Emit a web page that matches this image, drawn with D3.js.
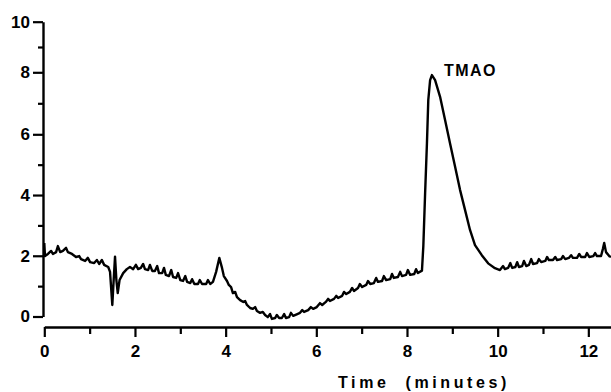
<!DOCTYPE html>
<html>
<head>
<meta charset="utf-8">
<script src="https://cdn.jsdelivr.net/npm/d3@7"></script>
<style>
  body { margin: 0; background: #fff; }
  svg { display: block; font-family: "Liberation Sans", Arial, sans-serif; font-weight: bold; }
</style>
</head>
<body>
<div id="chart"></div>
<script>
// chromatogram trace: [time (min), signal]
const trace = [
  [0, 2.42], [0.015, 1.99], [0.08, 2.06], [0.15, 2.16], [0.19, 2.06], [0.26, 2.12], [0.30, 2.32],
  [0.35, 2.12], [0.41, 2.16], [0.48, 2.26], [0.52, 2.12], [0.61, 2.06], [0.70, 1.96], [0.77, 1.99],
  [0.81, 1.89], [0.90, 1.83], [0.96, 1.93], [1.01, 1.79], [1.10, 1.76], [1.16, 1.86], [1.21, 1.73],
  [1.27, 1.86], [1.32, 1.70], [1.41, 1.63], [1.45, 1.47], [1.50, 0.38], [1.53, 1.20], [1.56, 1.97],
  [1.59, 1.20], [1.62, 0.77], [1.66, 1.20], [1.74, 1.43], [1.82, 1.56], [1.89, 1.63], [1.96, 1.56],
  [2.02, 1.70], [2.07, 1.56], [2.13, 1.60], [2.18, 1.73], [2.22, 1.56], [2.29, 1.53], [2.33, 1.70],
  [2.38, 1.50], [2.44, 1.50], [2.49, 1.66], [2.53, 1.43], [2.60, 1.43], [2.64, 1.60], [2.68, 1.37],
  [2.75, 1.33], [2.80, 1.53], [2.84, 1.30], [2.91, 1.27], [2.95, 1.43], [3.00, 1.20], [3.06, 1.17],
  [3.11, 1.33], [3.15, 1.14], [3.22, 1.10], [3.26, 1.23], [3.31, 1.07], [3.39, 1.07], [3.43, 1.20],
  [3.48, 1.07], [3.57, 1.07], [3.61, 1.20], [3.66, 1.07], [3.72, 1.14], [3.79, 1.47], [3.86, 1.93],
  [3.92, 1.60], [3.96, 1.33], [4.03, 1.17], [4.07, 1.04], [4.12, 0.97], [4.16, 0.77], [4.21, 0.81],
  [4.25, 0.64], [4.32, 0.54], [4.39, 0.48], [4.43, 0.51], [4.47, 0.38], [4.54, 0.28], [4.60, 0.25],
  [4.65, 0.31], [4.69, 0.18], [4.76, 0.12], [4.82, 0.15], [4.87, 0.05], [4.93, -0.02], [4.98, 0.08],
  [5.02, -0.08], [5.09, -0.05], [5.13, 0.05], [5.18, -0.05], [5.24, -0.05], [5.29, 0.08], [5.33, -0.05],
  [5.40, -0.02], [5.44, 0.12], [5.49, 0.02], [5.58, 0.08], [5.64, 0.12], [5.69, 0.21], [5.73, 0.15],
  [5.82, 0.21], [5.88, 0.31], [5.93, 0.25], [6.01, 0.31], [6.08, 0.44], [6.13, 0.38], [6.21, 0.48],
  [6.26, 0.58], [6.30, 0.51], [6.39, 0.58], [6.44, 0.68], [6.48, 0.61], [6.57, 0.68], [6.61, 0.81],
  [6.66, 0.74], [6.74, 0.81], [6.79, 0.94], [6.83, 0.84], [6.92, 0.94], [6.96, 1.07], [7.01, 0.97],
  [7.10, 1.04], [7.14, 1.17], [7.19, 1.07], [7.27, 1.10], [7.32, 1.27], [7.36, 1.14], [7.45, 1.17],
  [7.49, 1.33], [7.54, 1.20], [7.63, 1.23], [7.67, 1.40], [7.71, 1.27], [7.80, 1.30], [7.85, 1.47],
  [7.89, 1.33], [7.98, 1.37], [8.02, 1.53], [8.07, 1.37], [8.16, 1.40], [8.20, 1.56], [8.24, 1.43],
  [8.33, 1.51], [8.36, 2.30], [8.40, 4.07], [8.44, 5.70], [8.47, 7.11], [8.51, 7.75], [8.55, 7.91],
  [8.62, 7.75], [8.73, 7.21], [8.84, 6.46], [8.95, 5.70], [9.06, 4.94], [9.17, 4.17], [9.28, 3.51],
  [9.39, 2.85], [9.50, 2.35], [9.65, 2.02], [9.79, 1.75], [9.94, 1.59], [10.05, 1.53], [10.12, 1.66],
  [10.16, 1.56], [10.23, 1.60], [10.28, 1.76], [10.32, 1.60], [10.39, 1.63], [10.43, 1.79], [10.47, 1.63],
  [10.54, 1.66], [10.58, 1.83], [10.63, 1.66], [10.69, 1.70], [10.74, 1.89], [10.78, 1.73], [10.87, 1.76],
  [10.91, 1.89], [10.96, 1.79], [11.05, 1.83], [11.09, 1.96], [11.13, 1.86], [11.22, 1.86], [11.27, 1.96],
  [11.31, 1.86], [11.40, 1.89], [11.44, 1.99], [11.49, 1.89], [11.57, 1.93], [11.62, 2.02], [11.66, 1.93],
  [11.75, 1.93], [11.80, 2.06], [11.84, 1.96], [11.93, 1.96], [11.97, 2.09], [12.02, 1.96], [12.11, 1.99],
  [12.15, 2.09], [12.19, 1.99], [12.28, 1.99], [12.32, 2.22], [12.35, 2.42], [12.39, 2.12], [12.46, 1.99],
  [12.50, 1.96]
];

const xTicks = d3.range(0, 13);   // 0..12 min, labels on even ones
const yTicks = d3.range(0, 11);   // 0..10, labels on even ones
const peakName = "TMAO";
const peakAt = [8.55, 7.91];
const xTitle = "Time  (minutes)";

const width = 611, height = 392;

// x: minutes
const x = d3.scaleLinear()
  .domain([0, 12.5])
  .range([44.3, 611]);

// y: the scanned axis is a bit uneven at the top, so use a few breakpoints
const y = d3.scaleLinear()
  .domain([0, 6, 8, 10])
  .range([316.5, 134.3, 72.3, 21.7]);

const svg = d3.select("#chart").append("svg")
  .attr("width", width)
  .attr("height", height)
  .attr("viewBox", [0, 0, width, height]);

const evenLabel = d => d % 2 === 0 ? d : "";

// y axis
svg.append("g")
    .attr("transform", "translate(43,0)")
    .call(d3.axisLeft(y).tickValues(yTicks).tickSize(10).tickSizeOuter(0).tickPadding(3).tickFormat(evenLabel))
    .call(g => g.select(".domain").attr("stroke-width", 2.4))
    .call(g => g.selectAll(".tick line").attr("stroke-width", 2.2)
      .filter(d => d % 2 === 1).attr("x2", -5))
    .call(g => g.selectAll(".tick text")
      .attr("font-size", 17).attr("font-weight", "bold").attr("fill", "#000"));

// x axis, drawn a little below the y origin
svg.append("g")
    .attr("transform", "translate(0,327)")
    .call(d3.axisBottom(x).tickValues(xTicks).tickSize(10).tickSizeOuter(0).tickPadding(8).tickFormat(evenLabel))
    .call(g => g.select(".domain").attr("stroke-width", 2.4))
    .call(g => g.selectAll(".tick line").attr("stroke-width", 2.2)
      .filter(d => d % 2 === 1).attr("y2", 7))
    .call(g => g.selectAll(".tick text")
      .attr("font-size", 17).attr("font-weight", "bold").attr("fill", "#000"));

svg.append("text")
    .attr("x", 424)
    .attr("y", 388)
    .attr("text-anchor", "middle")
    .attr("font-size", 16)
    .attr("letter-spacing", 3.6)
    .style("white-space", "pre")
    .text(xTitle);

// the trace
const line = d3.line()
  .x(d => x(d[0]))
  .y(d => y(d[1]));

svg.append("path")
    .datum(trace)
    .attr("fill", "none")
    .attr("stroke", "#000")
    .attr("stroke-width", 2.4)
    .attr("stroke-linejoin", "round")
    .attr("d", line);

svg.append("text")
    .attr("x", x(peakAt[0]) + 12)
    .attr("y", y(peakAt[1]) + 1)
    .attr("font-size", 16)
    .attr("letter-spacing", 1.5)
    .text(peakName);
</script>
</body>
</html>
